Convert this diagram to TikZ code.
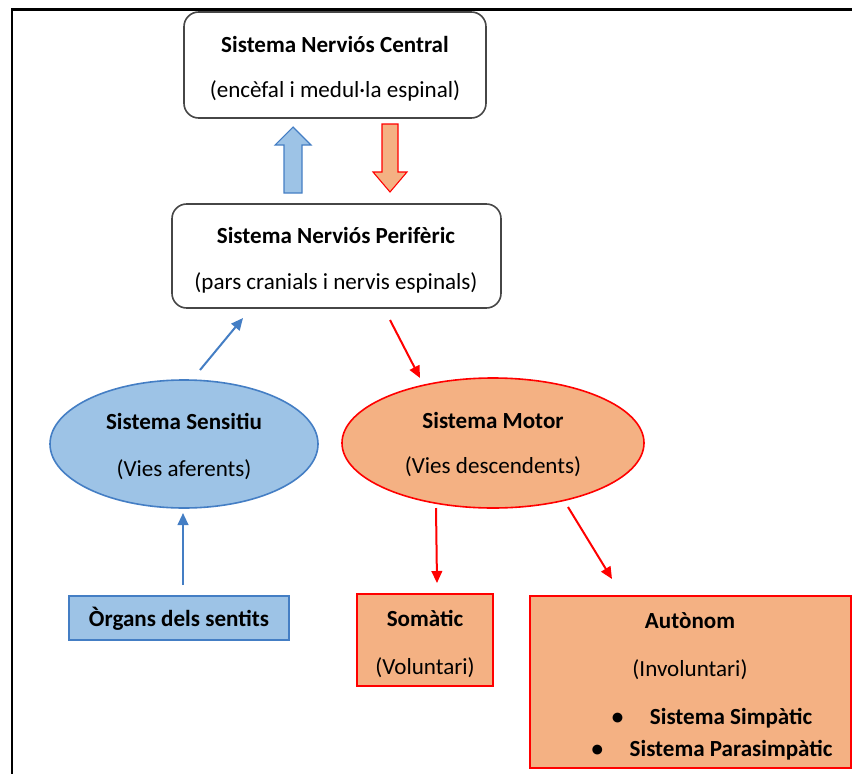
\documentclass[tikz,border=0pt]{standalone}
\usepackage{fontspec}
\setmainfont{Carlito}
\usepackage{xcolor}
\usepackage{tikz}
\usetikzlibrary{arrows.meta,shapes.geometric}

\definecolor{blueFill}{RGB}{157,195,230}
\definecolor{blueLine}{RGB}{68,126,196}
\definecolor{orangeFill}{RGB}{244,177,131}
\definecolor{redLine}{RGB}{255,0,0}
\definecolor{boxLine}{RGB}{70,70,70}

\tikzset{
  nbox/.style={draw=boxLine,line width=1.2pt,rounded corners=11pt,fill=white},
  bluebox/.style={draw=blueLine,line width=1.2pt,fill=blueFill},
  redbox/.style={draw=redLine,line width=1.2pt,fill=orangeFill},
  blueell/.style={ellipse,draw=blueLine,line width=1.2pt,fill=blueFill},
  redell/.style={ellipse,draw=redLine,line width=1.2pt,fill=orangeFill},
  txt/.style={inner sep=0.75pt,font=\fontsize{17.3}{20}\selectfont},
  btxt/.style={txt,font=\fontsize{17.3}{20}\selectfont\bfseries},
  bluearr/.style={draw=blueLine,line width=1.5pt,-{Triangle[length=9pt,width=8pt]}},
  redarr/.style={draw=redLine,line width=1.5pt,-{Triangle[length=9pt,width=8pt]}}
}

\begin{document}
\begin{tikzpicture}[x=0.75pt,y=0.75pt,yscale=-1,xscale=1]
\useasboundingbox (0,0) rectangle (852,774);

%Frame
\draw [line width=1.6pt] (852,9.5) -- (12,9.5) -- (12,774);

%Shapes
\node [nbox,minimum width=226.5pt,minimum height=79.5pt] (snc) at (335,65) {};
\node [nbox,minimum width=246.75pt,minimum height=78pt] (snp) at (336.5,256) {};
\node [blueell,minimum width=201pt,minimum height=96pt] (sens) at (184,444) {};
\node [redell,minimum width=226.5pt,minimum height=97.5pt] (motor) at (493,443) {};
\node [bluebox,minimum width=165pt,minimum height=33pt] (organs) at (179,618) {};
\node [redbox,minimum width=102pt,minimum height=69pt] (somatic) at (425,640) {};
\node [redbox,minimum width=240.75pt,minimum height=129pt] (autonom) at (690.5,682) {};

%Block arrows
\draw [draw=blueLine,line width=0.8pt,fill=blueFill] (284,193) -- (284,145) -- (275,145) -- (293,127) -- (311,145) -- (302,145) -- (302,193) -- cycle;
\draw [draw=redLine,line width=0.8pt,fill=orangeFill] (382,124) -- (382,172) -- (373,172) -- (390,192) -- (407,172) -- (398,172) -- (398,124) -- cycle;

%Connector ends
\coordinate (c1) at (200,370);
\coordinate (c2) at (243,318);
\coordinate (c3) at (390,320);
\coordinate (c4) at (420,378);
\coordinate (c5) at (183,585);
\coordinate (c6) at (183,513);
\coordinate (c7) at (436,508);
\coordinate (c8) at (437,583);
\coordinate (c9) at (568,507);
\coordinate (c10) at (612,579);

%Connectors
\draw [bluearr] (c1) -- (c2);
\draw [redarr] (c3) -- (c4);
\draw [bluearr] (c5) -- (c6);
\draw [redarr] (c7) -- (c8);
\draw [redarr] (c9) -- (c10);

% Text Node
\node [btxt] (t1) at (335,44) {Sistema Nerviós Central};
\node [txt] (t2) at (335,91) {(encèfal i medul·la espinal)};
\node [btxt] (t3) at (336,235) {Sistema Nerviós Perifèric};
\node [txt] (t4) at (336,283) {(pars cranials i nervis espinals)};
\node [btxt] (t5) at (184,421) {Sistema Sensitiu};
\node [txt] (t6) at (184,470) {(Vies aferents)};
\node [btxt] (t7) at (493,420) {Sistema Motor};
\node [txt] (t8) at (493,467) {(Vies descendents)};
\node [btxt] (t9) at (179,619) {Òrgans dels sentits};
\node [btxt] (t10) at (425,618) {Somàtic};
\node [txt] (t11) at (425,668) {(Voluntari)};
\node [btxt] (t12) at (690,621) {Autònom};
\node [txt] (t13) at (690,670) {(Involuntari)};
\node [btxt] (t14) at (712,718) {\textbullet\hspace{20pt}Sistema Simpàtic};
\node [btxt] (t15) at (712,750) {\textbullet\hspace{20pt}Sistema Parasimpàtic};
\end{tikzpicture}
\end{document}
